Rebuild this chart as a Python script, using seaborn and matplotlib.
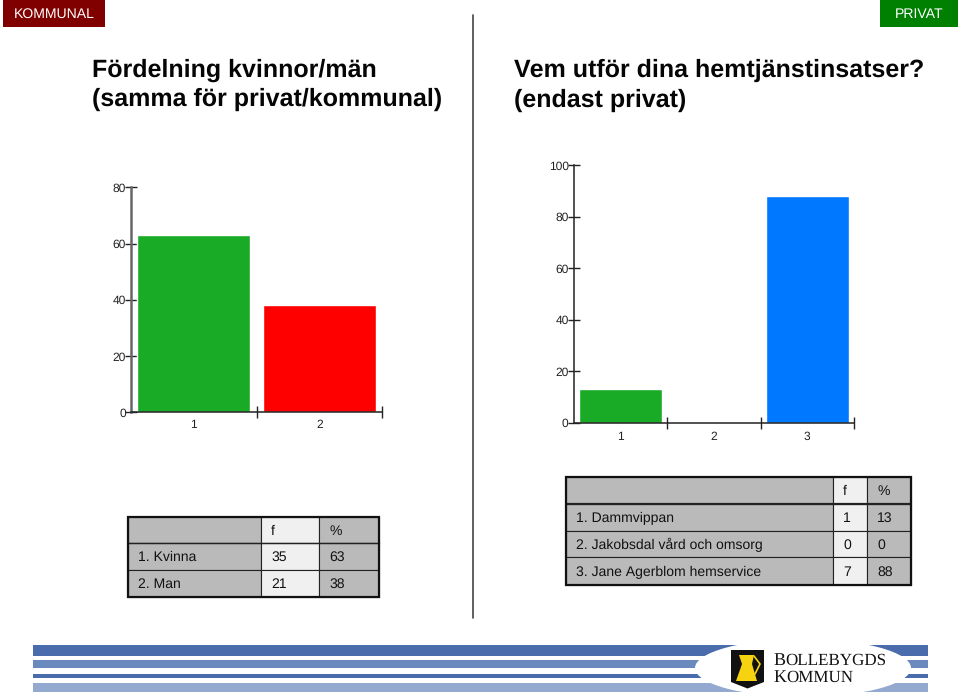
import matplotlib
matplotlib.use('Agg')
import matplotlib.pyplot as plt
import pandas as pd
import seaborn as sns
from matplotlib.patches import Rectangle, Polygon, Ellipse

sns.set_theme(style='white')
plt.rcParams['font.family'] = ['Liberation Sans', 'DejaVu Sans']
plt.rcParams['text.hinting'] = 'no_hinting'
plt.rcParams['text.hinting_factor'] = 1

W, H = 960, 695

kon_labels = ['1', '2']
kon_percent = [63, 38]
kon_colors = ['#1aab26', '#ff0000']
kon_ticks = [0, 20, 40, 60, 80]

utf_labels = ['1', '2', '3']
utf_percent = [13, 0, 88]
utf_colors = ['#1aab26', '#ffffff', '#0078ff']
utf_ticks = [0, 20, 40, 60, 80, 100]

kon_table = [['', 'f', '%'], ['1. Kvinna', '35', '63'], ['2. Man', '21', '38']]
utf_table = [['', 'f', '%'],
             ['1. Dammvippan', '1', '13'],
             ['2. Jakobsdal vård och omsorg', '0', '0'],
             ['3. Jane Agerblom hemservice', '7', '88']]


def px_axes(fig, left, right, top, bottom):
    return fig.add_axes([left / W, 1 - bottom / H, (right - left) / W, (bottom - top) / H])


def bar_chart(fig, box, labels, values, colors, ticks, width, spine_col, spine_lw, xpad):
    ax = px_axes(fig, *box)
    df = pd.DataFrame({'cat': labels, 'val': values})
    sns.barplot(data=df, x='cat', y='val', hue='cat', palette=colors, legend=False,
                width=width, saturation=1, ax=ax)
    ax.set_xlim(-0.5, len(labels) - 0.5)
    ax.set_ylim(0, ticks[-1])
    ax.set_xlabel('')
    ax.set_ylabel('')
    ax.set_yticks(ticks)
    ax.set_xticks([i + 0.5 for i in range(len(labels))], minor=True)
    ax.tick_params(axis='y', which='major', direction='inout', length=9, width=1,
                   color='#222222', labelsize=8.8, labelcolor='#222222', pad=-1, left=True)
    ax.tick_params(axis='x', which='major', length=0, labelsize=8.8, labelcolor='#222222', pad=xpad)
    ax.tick_params(axis='x', which='minor', direction='inout', length=9, width=1,
                   color='#222222', bottom=True)
    ax.patch.set_alpha(0)
    for s in ['top', 'right']:
        ax.spines[s].set_visible(False)
    ax.spines['bottom'].set_linewidth(1.1)
    ax.spines['bottom'].set_color('#222222')
    ax.spines['left'].set_color(spine_col)
    ax.spines['left'].set_linewidth(spine_lw)
    return ax


def draw_table(bg, rows, xs, ys, outer_lw, head_lw):
    for r, row in enumerate(rows):
        for c, txt in enumerate(row):
            col = '#f0f0f0' if c == 1 else '#bababa'
            bg.add_patch(Rectangle((xs[c], ys[r]), xs[c + 1] - xs[c], ys[r + 1] - ys[r],
                                   fc=col, ec='#222222', lw=0.8, zorder=2))
            bg.text(xs[c] + 10, (ys[r] + ys[r + 1]) / 2 + 1, txt, fontsize=9.9,
                    color='#111111', va='center', ha='left', zorder=4)
    bg.plot([xs[0], xs[-1]], [ys[1], ys[1]], color='#222222', lw=head_lw, zorder=3)
    bg.add_patch(Rectangle((xs[0], ys[0]), xs[-1] - xs[0], ys[-1] - ys[0],
                           fc='none', ec='#111111', lw=outer_lw, zorder=3))


fig = plt.figure(figsize=(W / 100, H / 100), dpi=100, facecolor='white')

# page background in pixel coordinates
bg = fig.add_axes([0, 0, 1, 1])
bg.set_xlim(0, W)
bg.set_ylim(H, 0)
bg.axis('off')

bg.add_patch(Rectangle((3, 0), 102, 26.5, fc='#800000', ec='none'))
bg.text(54, 14, 'KOMMUNAL', color='white', fontsize=10, ha='center', va='center')
bg.add_patch(Rectangle((880, 0), 78, 26.5, fc='#008000', ec='none'))
bg.text(919, 14, 'PRIVAT', color='white', fontsize=10, ha='center', va='center')

bg.plot([473, 473], [15, 618], color='#444444', lw=1.2)

title_kw = dict(fontsize=17.75, color='#050505', va='center', ha='left', fontweight='bold')
bg.text(92, 70, 'Fördelning kvinnor/män', **title_kw)
bg.text(92, 99, '(samma för privat/kommunal)', **title_kw)
bg.text(514, 70, 'Vem utför dina hemtjänstinsatser?', **title_kw)
bg.text(514, 100, '(endast privat)', **title_kw)

draw_table(bg, kon_table, [128, 261, 319, 379], [517, 543, 570, 597], 1.6, 1.0)
draw_table(bg, utf_table, [566, 833, 867, 911], [477, 504, 531, 557, 585], 1.6, 1.6)

# footer stripes and logo
for y0, y1, col in [(644.5, 655.5, '#4a6cad'), (660, 668, '#6a89bd'),
                    (673.5, 678, '#4a6cad'), (683, 691.5, '#93a9cf')]:
    bg.add_patch(Rectangle((33, y0), 895, y1 - y0, fc=col, ec='none', zorder=1))
bg.add_patch(Ellipse((803, 668), 216, 58, fc='white', ec='none', zorder=2))
bg.add_patch(Polygon([(731, 650), (764, 650), (764, 682), (747.5, 688.5), (731, 682)],
                     fc='#111111', ec='none', zorder=3))
bg.add_patch(Polygon([(739, 655), (754, 655), (752, 664), (757, 681), (736, 681), (742, 664)],
                     fc='#f5d311', ec='none', zorder=4))
bg.plot([754, 760, 755], [656, 664, 674], color='#f5d311', lw=1.2, zorder=4)
serif_kw = dict(family='Liberation Serif', color='#111111', va='baseline', ha='left', zorder=4)
bg.text(773, 664.5, 'B', fontsize=13, **serif_kw)
bg.text(785, 664.5, 'OLLEBYGDS', fontsize=11.9, **serif_kw)
bg.text(773, 681.5, 'K', fontsize=13, **serif_kw)
bg.text(786, 681.5, 'OMMUN', fontsize=12.6, **serif_kw)

bar_chart(fig, (131, 382, 187.3, 412.3), kon_labels, kon_percent, kon_colors, kon_ticks,
          0.9, '#666666', 1.8, 5)
bar_chart(fig, (573.5, 854, 165.3, 422.7), utf_labels, utf_percent, utf_colors, utf_ticks,
          0.885, '#222222', 1.1, 6)

fig.savefig('out.png', dpi=100)
